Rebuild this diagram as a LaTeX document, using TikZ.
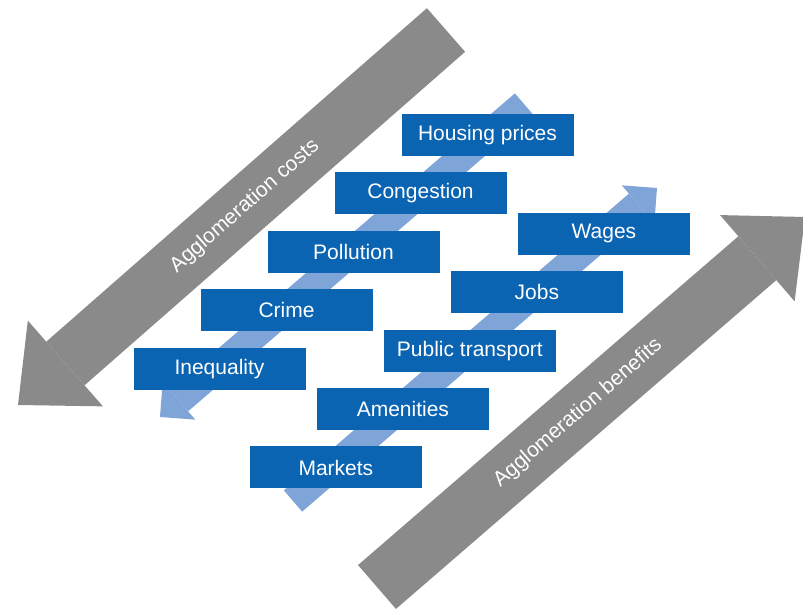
\documentclass[tikz,border=0pt]{standalone}
\usepackage{fontspec}
\setmainfont{Liberation Sans}
\usetikzlibrary{positioning,arrows.meta}

\definecolor{boxblue}{RGB}{10,100,178}
\definecolor{lightblue}{RGB}{127,165,216}
\definecolor{arrowgray}{RGB}{138,138,138}

\begin{document}
\begin{tikzpicture}[
        x=1pt, y=1pt,
        item/.style={rectangle, fill=boxblue, text=white, minimum width=172pt, minimum height=42pt, inner sep=0pt, font=\fontsize{21}{24}\selectfont},
        bigarrow/.style={draw=arrowgray, line width=58pt, -{Triangle[width=114pt, length=63pt, line width=0pt]}},
        thinarrow/.style={draw=lightblue, line width=28pt, -{Triangle[width=50pt, length=25pt, line width=0pt]}},
        arrowtext/.style={text=white, font=\fontsize{21}{24}\selectfont},
        node distance=16pt
        ]
        \useasboundingbox (0,0) rectangle (803,608);

        \coordinate (costsTail)     at (446,578);
        \coordinate (costsTip)      at (18,203);
        \coordinate (benefitsTail)  at (377,21);
        \coordinate (benefitsTip)   at (805,391);
        \coordinate (downTail)      at (524,504);
        \coordinate (downTip)       at (160,191);
        \coordinate (upTail)        at (293,107);
        \coordinate (upTip)         at (657,420);

        %Arrows
        \draw[bigarrow] (costsTail) -- (costsTip) node[arrowtext, pos=0.47, sloped] (costs) {Agglomeration costs};
        \draw[bigarrow] (benefitsTail) -- (benefitsTip) node[arrowtext, pos=0.47, sloped] (benefits) {Agglomeration benefits};
        \draw[thinarrow] (downTail) -- (downTip);
        \draw[thinarrow] (upTail) -- (upTip);

        %Costs
        \node[item]     (housing)                                       at (487.5,473)  {Housing prices};
        \node[item]     (congestion)    [below=of housing, xshift=-67pt]                {Congestion};
        \node[item]     (pollution)     [below=of congestion, xshift=-67pt]             {Pollution};
        \node[item]     (crime)         [below=of pollution, xshift=-67pt]              {Crime};
        \node[item]     (inequality)    [below=of crime, xshift=-67pt]                  {Inequality};

        %Benefits
        \node[item]     (wages)         [right=11pt of congestion, yshift=-40.5pt]      {Wages};
        \node[item]     (jobs)          [below=of wages, xshift=-67pt]                  {Jobs};
        \node[item]     (transport)     [below=of jobs, xshift=-67pt]                   {Public transport};
        \node[item]     (amenities)     [below=of transport, xshift=-67pt]              {Amenities};
        \node[item]     (markets)       [below=of amenities, xshift=-67pt]              {Markets};

    \end{tikzpicture}
\end{document}
